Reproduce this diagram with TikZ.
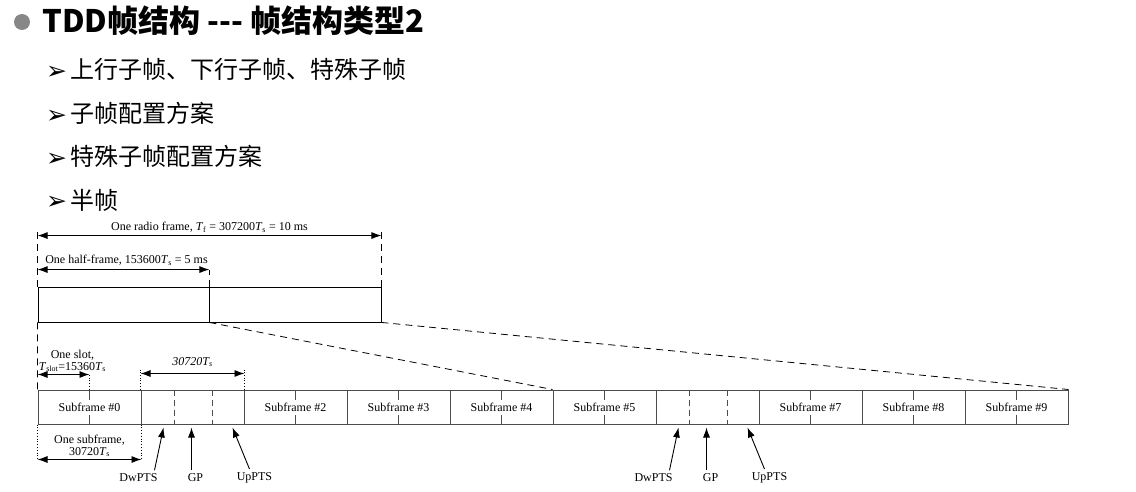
\documentclass[tikz,border=0pt]{standalone}
\usepackage{fontspec}
\setmainfont{Liberation Serif}
\newfontfamily\cjkfont{Noto Sans CJK SC}
\newfontfamily\symfont{DejaVu Sans}
\usetikzlibrary{arrows.meta,positioning}

\newcommand\tsub[2]{\textit{#1}\textsubscript{#2}}

\tikzset{
  sfbox/.style={draw=black!70,line width=1pt,minimum width=103pt,minimum height=34pt,
    inner sep=0pt,font=\fontsize{12}{14}\selectfont},
  halfbox/.style={draw,line width=0.9pt,minimum height=35pt,inner sep=0pt},
  dimarrow/.style={{Latex[length=10pt,width=7pt]}-{Latex[length=10pt,width=7pt]},line width=0.9pt},
  ptsarrow/.style={-{Latex[length=10pt,width=7pt]},line width=0.9pt},
  guide/.style={line width=0.8pt,dash pattern=on 7pt off 5pt},
  lbl/.style={font=\fontsize{12}{14}\selectfont,inner sep=1pt},
  bulletline/.style={font=\cjkfont\fontsize{24}{28}\selectfont,anchor=base west,inner sep=0pt},
}

\begin{document}
\begin{tikzpicture}[x=1pt,y=-1pt]
  \useasboundingbox (0,0) rectangle (1136,492);
  \pgfmathsetmacro\sfw{103}

% heading and bullet list
  \fill[black!47] (22,22) circle (8pt);
  \node[anchor=west,inner sep=0pt,font=\cjkfont\bfseries\fontsize{31}{36}\selectfont] (title) at (42,21)
    {TDD帧结构 --- 帧结构类型2};
  \foreach \y/\txt [count=\i] in {79/上行子帧、下行子帧、特殊子帧, 123/子帧配置方案,
                                   166/特殊子帧配置方案, 209/半帧}
    \node[bulletline] (item\i) at (46,\y) {{\symfont\fontsize{25}{25}\selectfont\raisebox{-1pt}{➢}}\hspace{3pt}\txt};

% radio frame, two half-frames
  \node[halfbox,minimum width=171pt] (hf1) at (123.5,304.5) {};
  \node[halfbox,minimum width=172pt] (hf2) at (295,304.5) {};

  \draw[guide] (hf1.north west) -- ++(0,-55);
  \draw[guide] (hf2.north east) -- ++(0,-55);
  \draw[guide] (hf1.north east) -- ++(0,-17);
  \draw[dimarrow] ([yshift=51pt]hf1.north west) -- ([yshift=51pt]hf2.north east)
    node[lbl,midway,above=2pt] {One radio frame, \tsub{T}{f} = 307200\tsub{T}{s} = 10 ms};
  \draw[dimarrow] ([yshift=17pt]hf1.north west) -- ([yshift=17pt]hf1.north east)
    node[lbl,midway,above=3pt,xshift=3pt] {One half-frame, 153600\tsub{T}{s} = 5 ms};

% ten subframes
  \foreach \k/\txt in {0/Subframe \#0, 1/, 2/Subframe \#2, 3/Subframe \#3, 4/Subframe \#4,
                       5/Subframe \#5, 6/, 7/Subframe \#7, 8/Subframe \#8, 9/Subframe \#9}
    \node[sfbox] (sf\k) at ({38+\sfw*\k+\sfw/2},407) {\txt};

  % slot boundaries
  \foreach \k in {0,2,3,4,5,7,8,9}{
    \draw[black!70,line width=1pt] (sf\k.north) -- ++(0,10);
    \draw[black!70,line width=1pt] (sf\k.south) -- ++(0,-10);
  }
  % special subframes: DwPTS | GP | UpPTS
  \foreach \s in {1,6}{
    \draw[black!70,line width=1pt,dash pattern=on 6pt off 4pt] ([xshift=34pt]sf\s.north west) -- ([xshift=34pt]sf\s.south west);
    \draw[black!70,line width=1pt,dash pattern=on 6pt off 4pt] ([xshift=72pt]sf\s.north west) -- ([xshift=72pt]sf\s.south west);
    \node[lbl] (dw\s) at ([xshift=-2pt,yshift=-53pt]sf\s.south west) {DwPTS};
    \node[lbl] (gp\s) at ([xshift=55pt,yshift=-53pt]sf\s.south west) {GP};
    \node[lbl] (up\s) at ([xshift=114pt,yshift=-53pt]sf\s.south west) {UpPTS};
    \draw[ptsarrow] ([xshift=16pt,yshift=2pt]dw\s.north) -- ([xshift=23pt,yshift=-3pt]sf\s.south west);
    \draw[ptsarrow] ([xshift=-4pt,yshift=2pt]gp\s.north) -- ([xshift=51pt,yshift=-3pt]sf\s.south west);
    \draw[ptsarrow] ([xshift=-5pt,yshift=2pt]up\s.north) -- ([xshift=92pt,yshift=-3pt]sf\s.south west);
  }

% zoom lines from the half-frame to the subframes
  \draw[guide] (hf1.south east) -- (sf5.north west);
  \draw[guide] (hf2.south east) -- (sf9.north east);
  \draw[guide] (hf1.south west) -- (sf0.north west);

% slot and subframe durations
  \draw[dotted,thick] (sf0.north) -- ++(0,-15);
  \draw[dimarrow] ([yshift=15pt]sf0.north west) -- ([yshift=15pt]sf0.north)
    node[lbl,midway,above=1pt,xshift=9pt,align=center] {One slot,\\[-2pt]\tsub{T}{slot}=15360\tsub{T}{s}};
  \draw[dotted,thick] (sf1.north west) -- ++(0,-20);
  \draw[dotted,thick] (sf1.north east) -- ++(0,-20);
  \draw[dimarrow] ([yshift=16pt]sf1.north west) -- ([yshift=16pt]sf1.north east)
    node[lbl,midway,above=5pt] {\itshape 30720\tsub{T}{s}};
  \draw[dotted,thick] (sf0.south west) -- ++(0,35);
  \draw[dotted,thick] (sf0.south east) -- ++(0,35);
  \draw[dimarrow] ([yshift=-35pt]sf0.south west) -- ([yshift=-35pt]sf0.south east)
    node[lbl,midway,above=1pt,align=center] {One subframe,\\[-2pt]30720\tsub{T}{s}};

\end{tikzpicture}
\end{document}
